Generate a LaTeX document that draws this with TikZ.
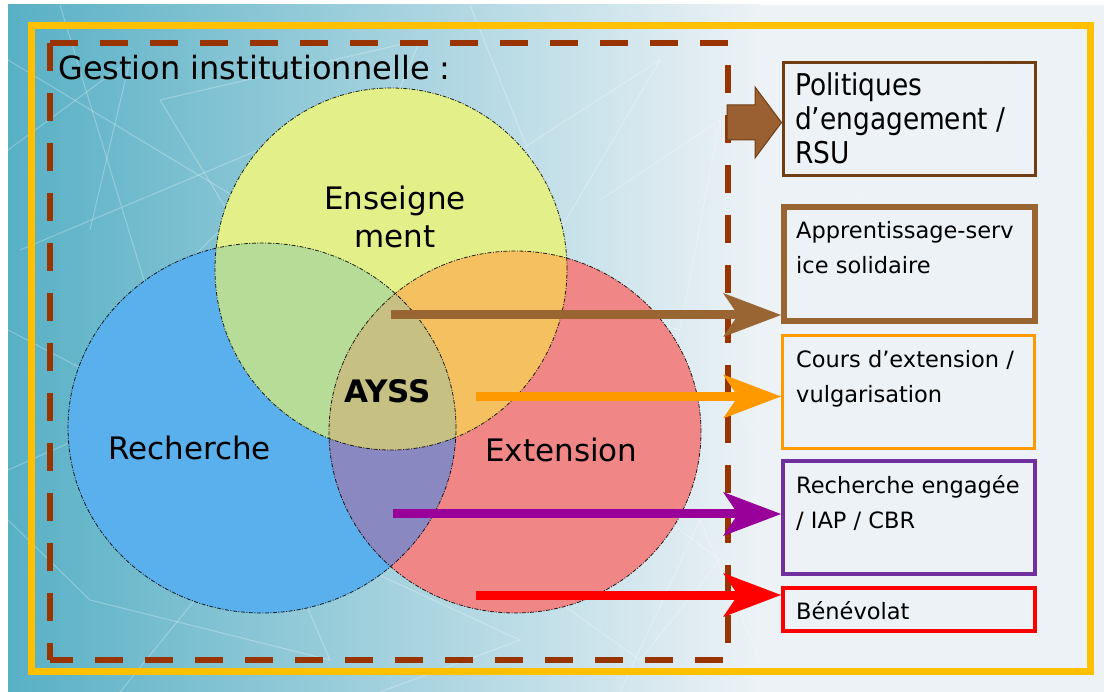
\documentclass[tikz,border=0pt]{standalone}
\usepackage{fontspec}
\setmainfont{DejaVu Sans}
\newfontfamily\boxfont[FakeStretch=0.88]{DejaVu Sans}
\usetikzlibrary{arrows.meta}
\definecolor{bgA}{RGB}{88,176,197}
\definecolor{bgB}{RGB}{172,216,227}
\definecolor{bgC}{RGB}{237,242,246}
\definecolor{gold}{RGB}{255,192,0}
\definecolor{rust}{RGB}{153,51,0}
\definecolor{cyel}{RGB}{227,240,138}
\definecolor{cblu}{RGB}{90,176,236}
\definecolor{cred}{RGB}{240,134,134}
\definecolor{cgrn}{RGB}{183,220,152}
\definecolor{corg}{RGB}{245,192,95}
\definecolor{cpur}{RGB}{138,136,192}
\definecolor{coli}{RGB}{198,192,130}
\definecolor{dbrown}{RGB}{111,62,20}
\definecolor{fatfill}{RGB}{155,96,50}
\definecolor{mbrown}{RGB}{153,102,51}
\definecolor{aorange}{RGB}{255,153,0}
\definecolor{bpurple}{RGB}{112,48,160}
\definecolor{apurple}{RGB}{153,0,153}
\definecolor{ared}{RGB}{255,0,0}
\tikzset{
  bigfont/.style={font=\fontsize{31}{38}\selectfont},
  smallfont/.style={font=\fontsize{22.5}{35}\selectfont},
  outbox/.style={draw, minimum width=252pt, minimum height=113pt, inner sep=0pt},
  conn/.style={line width=9pt, -{Stealth[length=58pt,width=44pt,inset=15pt,line width=0pt]}},
  vennline/.style={draw=black, line width=0.8pt, dash pattern=on 4pt off 1.5pt on 1pt off 1.5pt, opacity=0.85},
  bgline/.style={white, opacity=0.28, line width=1pt},
  rustdash/.style={rust, line width=6.5pt, dash pattern=on 28pt off 22pt}
}
\begin{document}
\begin{tikzpicture}[x=1pt,y=-1pt]
\useasboundingbox (0,0) rectangle (1104,692);
% background
\fill[white] (0,0) rectangle (1104,692);
\shade[left color=bgA, middle color=bgB, right color=bgC] (8,5) rectangle (760,692);
\fill[bgC] (759,5) rectangle (1104,692);
\draw[bgline] (8,60) -- (240,200) -- (180,420) -- (8,330);
\draw[bgline] (60,5) -- (150,300) -- (330,120) -- (20,250);
\draw[bgline] (160,100) -- (420,40) -- (300,330) -- (160,100);
\draw[bgline] (8,470) -- (210,380) -- (330,660) -- (90,600) -- (8,520);
\draw[bgline] (120,692) -- (260,520) -- (520,640) -- (380,692);
\draw[bgline] (470,5) -- (560,230) -- (660,60) -- (520,150);
\draw[bgline] (600,200) -- (720,120) -- (680,330) -- (560,300);
\draw[bgline] (620,692) -- (700,520) -- (760,660);
\draw[bgline] (8,150) -- (130,60) -- (90,230);
\draw[bgline] (250,240) -- (400,330) -- (180,520);
\draw[bgline] (560,440) -- (720,560) -- (640,660) -- (500,560);
\draw[bgline, opacity=0.18] (760,5) -- (860,200) -- (1000,40) -- (1104,160);
\draw[bgline, opacity=0.18] (740,420) -- (880,520) -- (760,600);
% frames
\draw[gold, line width=7pt] (31.5,25.5) rectangle (1090,671);
\draw[rustdash] (50,43) -- (728,43) -- (728,660) -- (50,660);
\draw[rustdash] (50,43) -- (50,660);
\node[anchor=base west, inner sep=0pt, font=\fontsize{32}{38}\selectfont] (gest) at (58,80) {Gestion institutionnelle :};
% Venn
\fill[cblu] (262,428) ellipse [x radius=194pt, y radius=185pt];
\fill[cred] (515,432) ellipse [x radius=186pt, y radius=181pt];
\fill[cyel] (391,269) ellipse [x radius=176pt, y radius=181pt];
\begin{scope}
  \clip (391,269) ellipse [x radius=176pt, y radius=181pt];
  \fill[cgrn] (262,428) ellipse [x radius=194pt, y radius=185pt];
  \fill[corg] (515,432) ellipse [x radius=186pt, y radius=181pt];
  \clip (262,428) ellipse [x radius=194pt, y radius=185pt];
  \fill[coli] (515,432) ellipse [x radius=186pt, y radius=181pt];
\end{scope}
\begin{scope}
  \clip (262,428) ellipse [x radius=194pt, y radius=185pt];
  \clip (515,432) ellipse [x radius=186pt, y radius=181pt];
  \path[fill=cpur, even odd rule] (0,0) rectangle (1104,692) (391,269) ellipse [x radius=176pt, y radius=181pt];
\end{scope}
\path[vennline] (262,428) ellipse [x radius=194pt, y radius=185pt];
\path[vennline] (515,432) ellipse [x radius=186pt, y radius=181pt];
\path[vennline] (391,269) ellipse [x radius=176pt, y radius=181pt];
\node[bigfont, anchor=north, align=center, inner sep=0pt] (ens) at (395,185) {\rule{0pt}{24pt}Enseigne\\ment};
\node[bigfont, anchor=base west, inner sep=0pt] (rech) at (108,460) {Recherche};
\node[bigfont, anchor=base west, inner sep=0pt] (ext) at (485,462) {Extension};
\node[anchor=base west, inner sep=0pt, font=\fontsize{31}{38}\selectfont\bfseries] (ayss) at (344,403) {AYSS};
% boxes
\node[outbox, draw=dbrown, line width=3pt] (b1) at (909,119) {};
\node[outbox, draw=mbrown, line width=6pt, minimum width=251pt, minimum height=114pt] (b2) at (909.5,264) {};
\node[outbox, draw=aorange, line width=3pt] (b3) at (908.5,392) {};
\node[outbox, draw=bpurple, line width=4pt] (b4) at (909,517.5) {};
\node[outbox, draw=ared, line width=4pt, minimum height=43pt] (b5) at (909,609.5) {};
\node[anchor=north west, inner sep=0pt, align=left, font=\boxfont\fontsize{30}{34}\selectfont] (t1) at (795,71) {\rule{0pt}{24pt}Politiques\\d’engagement /\\RSU};
\node[smallfont, anchor=north west, inner sep=0pt, align=left] (t2) at (796,220) {\rule{0pt}{18pt}Apprentissage-serv\\ice solidaire};
\node[smallfont, anchor=north west, inner sep=0pt, align=left] (t3) at (796,349) {\rule{0pt}{18pt}Cours d’extension /\\vulgarisation};
\node[smallfont, anchor=north west, inner sep=0pt, align=left] (t4) at (796,475) {\rule{0pt}{18pt}Recherche engagée\\/ IAP / CBR};
\node[smallfont, anchor=base west, inner sep=0pt] (t5) at (796,619) {Bénévolat};
% fat arrow to b1
\draw[dbrown, fill=fatfill, line width=1pt, line join=miter] (727,105) -- (755,105) -- (755,87) -- (b1.west |- 0,122.5) -- (755,158) -- (755,140) -- (727,140) -- cycle;
% connectors
\coordinate (s1) at (391,315);
\coordinate (s2) at (476,396.5);
\coordinate (s3) at (393,514);
\coordinate (s4) at (476,595);
\draw[conn, mbrown] (s1) -- (s1 -| b2.west);
\draw[conn, aorange] (s2) -- (s2 -| b3.west);
\draw[conn, apurple] (s3) -- (s3 -| b4.west);
\draw[conn, ared] (s4) -- (s4 -| b5.west);
\end{tikzpicture}
\end{document}
